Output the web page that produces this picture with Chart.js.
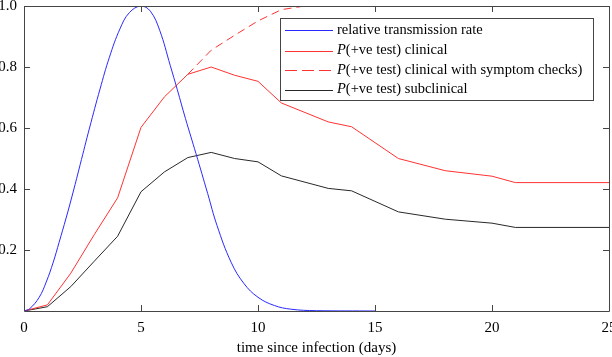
<!DOCTYPE html>
<html>
<head>
<meta charset="utf-8">
<script src="https://cdn.jsdelivr.net/npm/chart.js@4/dist/chart.umd.min.js"></script>
<style>
  html, body { margin: 0; padding: 0; background: #fff; }
  #wrap { width: 612px; height: 357px; }
</style>
</head>
<body>
<div id="wrap"><canvas id="chart"></canvas></div>
<script>
// relative transmission rate
var rateDays = [0, 0.25, 0.65, 0.95, 1.25, 1.5, 1.8, 2.1, 2.4, 2.8, 3.25, 3.65, 4.1, 4.5, 5, 5.4, 5.8, 6.25, 6.55, 6.9, 7.35, 7.85, 8.25, 8.85, 9.4, 10, 10.7, 11.4, 12.5, 15];
var rateValues = [0, 0.008, 0.045, 0.095, 0.16, 0.225, 0.305, 0.39, 0.48, 0.60, 0.728, 0.832, 0.925, 0.978, 1.0, 0.983, 0.92, 0.805, 0.726, 0.631, 0.516, 0.385, 0.28, 0.16, 0.09, 0.045, 0.018, 0.006, 0.001, 0];

// P(+ve test) curves
var testDays = [0, 1, 2, 3, 4, 5, 6, 7, 8, 9, 10, 11, 13, 14, 16, 18, 20, 21, 25];
var clinical = [0, 0.02, 0.124, 0.25, 0.371, 0.602, 0.702, 0.776, 0.80, 0.773, 0.753, 0.682, 0.62, 0.604, 0.5, 0.46, 0.442, 0.421, 0.421];
var subclinical = [0, 0.014, 0.08, 0.163, 0.245, 0.391, 0.456, 0.503, 0.52, 0.5, 0.489, 0.443, 0.402, 0.394, 0.325, 0.301, 0.288, 0.274, 0.274];

var checkDays = [7, 8, 9, 10, 11, 12, 25];
var clinicalChecks = [0.776, 0.855, 0.904, 0.951, 0.988, 1.0, 1.0];

var xTicks = [0, 5, 10, 15, 20, 25];
var yTicks = [0.2, 0.4, 0.6, 0.8, 1.0];

var FONT = "'Liberation Serif', 'Times New Roman', serif";
var AXIS_COLOR = '#454545';

function pts(xs, ys) {
    return xs.map(function (x, i) { return { x: x, y: ys[i] }; });
}

// box round the plot with inward ticks, like the original figure
var framePlugin = {
    id: 'frame',
    afterDatasetsDraw: function (chart) {
        var ctx = chart.ctx, a = chart.chartArea;
        var xs = chart.scales.x, ys = chart.scales.y;
        var len = 6;
        ctx.save();
        ctx.strokeStyle = AXIS_COLOR;
        ctx.lineWidth = 1;
        ctx.beginPath();
        ctx.rect(Math.round(a.left) + 0.5, Math.round(a.top) + 0.5,
            Math.round(a.right - a.left), Math.round(a.bottom - a.top));
        xTicks.forEach(function (t) {
            var px = Math.round(xs.getPixelForValue(t)) + 0.5;
            ctx.moveTo(px, a.bottom); ctx.lineTo(px, a.bottom - len);
            ctx.moveTo(px, a.top); ctx.lineTo(px, a.top + len);
        });
        yTicks.forEach(function (t) {
            var py = Math.round(ys.getPixelForValue(t)) + 0.5;
            ctx.moveTo(a.left, py); ctx.lineTo(a.left + len, py);
            ctx.moveTo(a.right, py); ctx.lineTo(a.right - len, py);
        });
        ctx.stroke();
        ctx.restore();
    }
};

// legend box in the upper right, 'P' set in italics
var legendPlugin = {
    id: 'boxLegend',
    afterDraw: function (chart) {
        var ctx = chart.ctx;
        var box = { x: 280.5, y: 18.5, w: 313, h: 82 };
        var rowY = [30, 50.5, 70, 89.5];
        ctx.save();
        ctx.fillStyle = '#fff';
        ctx.fillRect(box.x, box.y, box.w, box.h);
        ctx.strokeStyle = AXIS_COLOR;
        ctx.lineWidth = 1;
        ctx.strokeRect(box.x, box.y, box.w, box.h);
        chart.data.datasets.forEach(function (ds, i) {
            var y = Math.round(rowY[i]) + 0.5;
            ctx.strokeStyle = ds.borderColor;
            ctx.lineWidth = 1;
            ctx.setLineDash(ds.borderDash ? [12, 5] : []);
            ctx.beginPath();
            ctx.moveTo(285, y);
            ctx.lineTo(333, y);
            ctx.stroke();
            ctx.setLineDash([]);
            ctx.fillStyle = '#000';
            ctx.textBaseline = 'middle';
            var x = 337;
            var text = ds.label;
            if (text.indexOf('P(') === 0) {
                ctx.font = 'italic 14.5px ' + FONT;
                ctx.fillText('P', x, rowY[i]);
                x += ctx.measureText('P').width;
                text = text.slice(1);
            }
            ctx.font = '14.5px ' + FONT;
            ctx.fillText(text, x, rowY[i]);
        });
        ctx.restore();
    }
};

new Chart(document.getElementById('chart'), {
    type: 'line',
    data: {
        datasets: [{
            label: 'relative transmission rate',
            data: pts(rateDays, rateValues),
            borderColor: 'rgb(40, 40, 255)',
            tension: 0.4
        }, {
            label: 'P(+ve test) clinical',
            data: pts(testDays, clinical),
            borderColor: 'rgb(255, 50, 50)'
        }, {
            label: 'P(+ve test) clinical with symptom checks)',
            data: pts(checkDays, clinicalChecks),
            borderColor: 'rgb(255, 50, 50)',
            borderDash: [8, 5]
        }, {
            label: 'P(+ve test) subclinical',
            data: pts(testDays, subclinical),
            borderColor: 'rgb(40, 40, 40)'
        }]
    },
    options: {
        responsive: true,
        maintainAspectRatio: false,
        animation: false,
        layout: { padding: { top: 6, right: 3, left: 0, bottom: 0 } },
        elements: {
            point: { radius: 0 },
            line: { borderWidth: 1, tension: 0, fill: false }
        },
        plugins: {
            legend: { display: false },
            tooltip: { enabled: false }
        },
        scales: {
            x: {
                type: 'linear',
                min: 0,
                max: 25,
                grid: { display: false, drawTicks: false },
                border: { display: false },
                afterBuildTicks: function (scale) {
                    scale.ticks = xTicks.map(function (v) { return { value: v }; });
                },
                ticks: {
                    color: '#000',
                    padding: 8,
                    maxRotation: 0,
                    font: { family: FONT, size: 15 }
                },
                title: {
                    display: true,
                    text: 'time since infection (days)',
                    color: '#000',
                    padding: { top: 0, bottom: 0 },
                    font: { family: FONT, size: 15 }
                },
                afterFit: function (scale) {
                    scale.height = 46;
                    scale.paddingLeft = 0;
                    scale.paddingRight = 0;
                }
            },
            y: {
                min: 0,
                max: 1,
                grid: { display: false, drawTicks: false },
                border: { display: false },
                afterBuildTicks: function (scale) {
                    scale.ticks = yTicks.map(function (v) { return { value: v }; });
                },
                ticks: {
                    color: '#000',
                    padding: 7,
                    font: { family: FONT, size: 15 },
                    callback: function (v) { return v.toFixed(1); }
                },
                afterFit: function (scale) {
                    scale.width = 24;
                    scale.paddingTop = 0;
                    scale.paddingBottom = 0;
                }
            }
        }
    },
    plugins: [framePlugin, legendPlugin]
});
</script>
</body>
</html>
